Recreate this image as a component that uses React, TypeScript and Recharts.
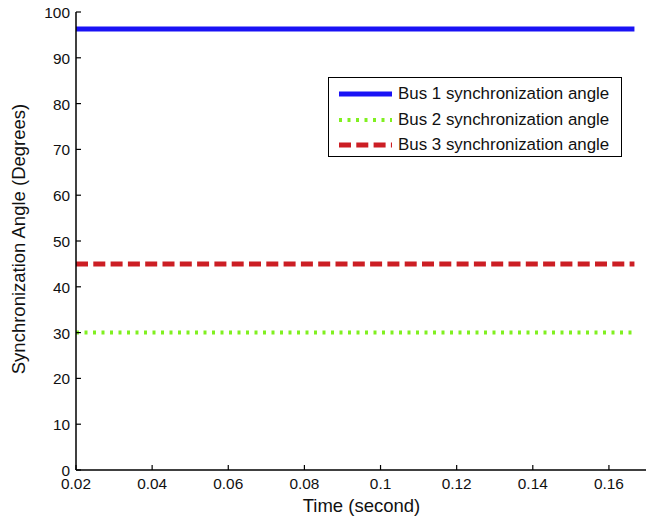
import React from "react";
import { LineChart, Line, XAxis, YAxis } from "recharts";

// time axis (s) and the three bus angles (deg)
const times = [0.02, 0.0625, 0.1075, 0.1667];
const bus1 = [96.3, 96.3, 96.3, 96.3];
const bus2 = [30, 30, 30, 30];
const bus3 = [45, 45, 45, 45];

const timeTicks = [0.02, 0.04, 0.06, 0.08, 0.1, 0.12, 0.14, 0.16];
const angleTicks = [0, 10, 20, 30, 40, 50, 60, 70, 80, 90, 100];

const FONT = "'Liberation Sans', Arial, Helvetica, sans-serif";
const TICK = 5;

const series = [
  { key: "bus1", name: "Bus 1 synchronization angle", color: "#1a12f5", width: 5, dash: undefined },
  { key: "bus2", name: "Bus 2 synchronization angle", color: "#80f020", width: 4, dash: "3 5.5" },
  { key: "bus3", name: "Bus 3 synchronization angle", color: "#cc1e24", width: 5, dash: "12 5.3" },
];

const data = times.map((t, i) => ({ t, bus1: bus1[i], bus2: bus2[i], bus3: bus3[i] }));

function BottomTick(props: any) {
  const { x, y, payload } = props;
  return (
    <g>
      <line x1={x} x2={x} y1={y} y2={y - TICK} stroke="#000" strokeWidth={1.2} />
      <text x={x} y={y + 19} textAnchor="middle" fontSize={15.4} fontFamily={FONT} fill="#111">
        {String(payload.value)}
      </text>
    </g>
  );
}

function TopTick(props: any) {
  const { x, y } = props;
  return <line x1={x} x2={x} y1={y} y2={y + TICK} stroke="#000" strokeWidth={1.2} />;
}

function LeftTick(props: any) {
  const { x, y, payload } = props;
  return (
    <g>
      <line x1={x} x2={x + TICK} y1={y} y2={y} stroke="#000" strokeWidth={1.2} />
      <text x={x - 6} y={y + 6} textAnchor="end" fontSize={15.4} fontFamily={FONT} fill="#111">
        {String(payload.value)}
      </text>
    </g>
  );
}

function RightTick(props: any) {
  const { x, y } = props;
  return <line x1={x} x2={x - TICK} y1={y} y2={y} stroke="#000" strokeWidth={1.2} />;
}

function Legend() {
  return (
    <div
      style={{
        position: "absolute",
        left: 320,
        top: 69,
        width: 292,
        height: 78,
        border: "1.5px solid #000",
        background: "#fff",
        fontFamily: FONT,
        fontSize: 16.9,
        color: "#111",
      }}
    >
      {series.map((s, i) => (
        <div
          key={s.key}
          style={{ position: "absolute", left: 0, top: 4 + i * 25.5, height: 24, display: "flex", alignItems: "center" }}
        >
          <svg width={64} height={24} style={{ display: "block" }}>
            <line
              x1={10}
              x2={63}
              y1={12}
              y2={12}
              stroke={s.color}
              strokeWidth={s.width}
              strokeDasharray={s.dash}
            />
          </svg>
          <span style={{ marginLeft: 5, whiteSpace: "nowrap" }}>{s.name}</span>
        </div>
      ))}
    </div>
  );
}

export default function App() {
  return (
    <div style={{ position: "relative", width: 644, height: 508 }}>
      <LineChart width={644} height={508} data={data} margin={{ top: 4, right: 5, left: 0, bottom: 0 }}>
        <XAxis
          xAxisId="b"
          dataKey="t"
          type="number"
          domain={[0.02, 0.17]}
          ticks={timeTicks}
          orientation="bottom"
          height={46}
          tickSize={0}
          tickMargin={0}
          tickLine={false}
          axisLine={{ stroke: "#000", strokeWidth: 1.5 }}
          tick={<BottomTick />}
          interval={0}
          label={{
            content: (p: any) => {
              const vb = p.viewBox;
              return (
                <text
                  x={vb.x + vb.width / 2}
                  y={vb.y + 41.7}
                  textAnchor="middle"
                  fontSize={18.5}
                  fontFamily={FONT}
                  fill="#111"
                >
                  Time (second)
                </text>
              );
            },
          }}
        />
        <XAxis
          xAxisId="t"
          dataKey="t"
          type="number"
          domain={[0.02, 0.17]}
          ticks={timeTicks}
          orientation="top"
          height={0}
          tickSize={0}
          tickMargin={0}
          tickLine={false}
          axisLine={{ stroke: "#000", strokeWidth: 1.5 }}
          tick={<TopTick />}
          interval={0}
        />
        <YAxis
          yAxisId="l"
          type="number"
          domain={[0, 100]}
          ticks={angleTicks}
          orientation="left"
          width={68}
          tickSize={0}
          tickMargin={0}
          tickLine={false}
          axisLine={{ stroke: "#000", strokeWidth: 1.5 }}
          tick={<LeftTick />}
          interval={0}
          label={{
            content: (p: any) => {
              const vb = p.viewBox;
              const cx = vb.x + 17;
              const cy = vb.y + vb.height / 2 - 2;
              return (
                <text
                  x={cx}
                  y={cy}
                  transform={`rotate(-90 ${cx} ${cy})`}
                  textAnchor="middle"
                  fontSize={18.5}
                  fontFamily={FONT}
                  fill="#111"
                >
                  Synchronization Angle (Degrees)
                </text>
              );
            },
          }}
        />
        <YAxis
          yAxisId="r"
          type="number"
          domain={[0, 100]}
          ticks={angleTicks}
          orientation="right"
          width={0}
          tickSize={0}
          tickMargin={0}
          tickLine={false}
          axisLine={{ stroke: "#000", strokeWidth: 1.5 }}
          tick={<RightTick />}
          interval={0}
        />
        {series.map((s) => (
          <Line
            key={s.key}
            xAxisId="b"
            yAxisId="l"
            type="linear"
            dataKey={s.key}
            name={s.name}
            stroke={s.color}
            strokeWidth={s.width}
            strokeDasharray={s.dash}
            strokeLinecap="butt"
            dot={false}
            activeDot={false}
            isAnimationActive={false}
          />
        ))}
      </LineChart>
      <Legend />
    </div>
  );
}
